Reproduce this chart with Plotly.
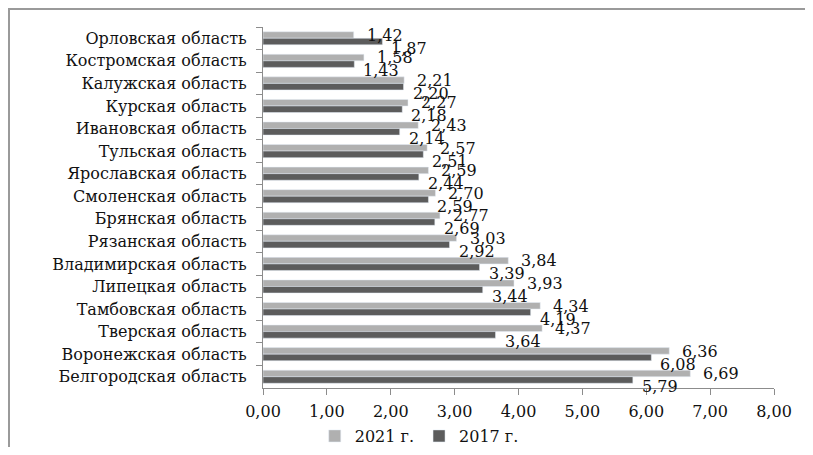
import plotly.graph_objects as go

regions = ["Орловская область", "Костромская область", "Калужская область", "Курская область",
           "Ивановская область", "Тульская область", "Ярославская область", "Смоленская область",
           "Брянская область", "Рязанская область", "Владимирская область", "Липецкая область",
           "Тамбовская область", "Тверская область", "Воронежская область", "Белгородская область"]
v2021 = [1.42, 1.58, 2.21, 2.27, 2.43, 2.57, 2.59, 2.70, 2.77, 3.03, 3.84, 3.93, 4.34, 4.37, 6.36, 6.69]
v2017 = [1.87, 1.43, 2.20, 2.18, 2.14, 2.51, 2.44, 2.59, 2.69, 2.92, 3.39, 3.44, 4.19, 3.64, 6.08, 5.79]
xticks = [0, 1, 2, 3, 4, 5, 6, 7, 8]

font = "DejaVu Serif, Liberation Serif, serif"

fig = go.Figure()
fig.add_trace(go.Bar(y=regions, x=v2021, orientation="h", name="2021 г.", marker_color="#b0b0b0"))
fig.add_trace(go.Bar(y=regions, x=v2017, orientation="h", name="2017 г.", marker_color="#5c5c5c"))

# value labels (placed a bit off like in the source picture)
ann = []
for r, a, b in zip(regions, v2021, v2017):
    ann.append(dict(x=a, y=r, text=f"{a:.2f}".replace(".", ","), showarrow=False, xanchor="left",
                    xshift=11, yshift=3, font=dict(family=font, size=16, color="#111")))
    ann.append(dict(x=b, y=r, text=f"{b:.2f}".replace(".", ","), showarrow=False, xanchor="left",
                    xshift=7, yshift=-10, font=dict(family=font, size=16, color="#111")))

# page body has an 8px margin, so the figure is a bit smaller than the window
fig.update_layout(
    width=797, height=439,
    margin=dict(l=255, r=31, t=19, b=59, autoexpand=False),
    paper_bgcolor="white", plot_bgcolor="white",
    barmode="group", bargap=0.42, bargroupgap=0,
    separators=", ",
    font=dict(family=font, size=15, color="#111"),
    showlegend=True,
    legend=dict(orientation="h", xref="container", yref="container", x=0.516, y=0.025,
                xanchor="center", yanchor="middle", font=dict(family=font, size=16), itemwidth=30),
    annotations=ann,
    shapes=[dict(type="rect", xref="paper", yref="paper", x0=-254 / 511, x1=1.2, y0=-0.3,
                 y1=1 + 18 / 361, line=dict(color="#9a9a9a", width=2))],
)
fig.update_xaxes(range=[0, 8], tickvals=xticks, tickformat=".2f", showgrid=False, zeroline=False,
                 showline=True, linecolor="#8c8c8c", ticks="outside", ticklen=6, tickcolor="#8c8c8c",
                 tickfont=dict(family=font, size=16), ticklabelstandoff=3)
fig.update_yaxes(range=[len(regions) - 0.5, -0.5], showgrid=False, showline=True, linecolor="#8c8c8c",
                 ticks="outside", tickson="boundaries", ticklen=6, tickcolor="#8c8c8c",
                 tickfont=dict(family=font, size=16), ticklabelstandoff=12)

fig.write_html("out.html")
